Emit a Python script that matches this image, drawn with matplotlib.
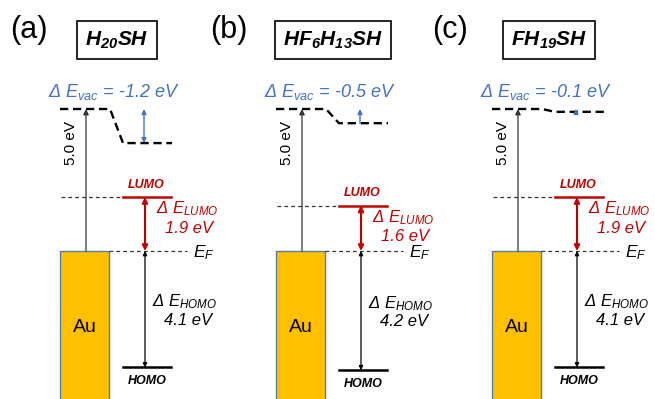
import matplotlib.pyplot as plt
from matplotlib.patches import Rectangle

plt.rcParams['font.family'] = ['Liberation Sans', 'DejaVu Sans']
plt.rcParams['mathtext.fontset'] = 'custom'
plt.rcParams['mathtext.rm'] = 'Liberation Sans'
plt.rcParams['mathtext.it'] = 'Liberation Sans:italic'
plt.rcParams['mathtext.bf'] = 'Liberation Sans:bold'
plt.rcParams['mathtext.bfit'] = 'Liberation Sans:italic:bold'

# Energie-Werte (eV, relativ zum Fermi-Niveau)
panels = ['(a)', '(b)', '(c)']
molecules = [r'$\mathbfit{H_{20}SH}$', r'$\mathbfit{HF_{6}H_{13}SH}$', r'$\mathbfit{FH_{19}SH}$']
work_function = [5.0, 5.0, 5.0]
delta_vac = [-1.2, -0.5, -0.1]
delta_lumo = [1.9, 1.6, 1.9]
delta_homo = [4.1, 4.2, 4.1]

BLUE = '#4472C4'
RED = '#C00000'
GOLD = '#FFC000'
DASH = '#333333'

# Skala: Pixel pro eV, Fermi-Niveau bei 251 px von oben
PX_EV = 28.4
EF_PX = 251
H_PX = 399

fig = plt.figure(figsize=(6.55, 3.99), dpi=100)
ax = fig.add_axes([0, 0, 1, 1])
ax.set_xlim(0, 655)
ax.set_ylim(-(H_PX - EF_PX) / PX_EV, EF_PX / PX_EV)
ax.axis('off')

offsets = [0, 216, 432]
label_x = [10, 210, 432]

for i in range(3):
    o = offsets[i]
    wf = work_function[i]
    vac2 = wf + delta_vac[i]
    lumo = delta_lumo[i]
    homo = -delta_homo[i]

    # Kopfzeile
    ax.text(label_x[i], 7.78, panels[i], fontsize=22, ha='left', va='center')
    ax.text(o + 117, 7.43, molecules[i], fontsize=15, ha='center', va='center',
            bbox=dict(boxstyle='square,pad=0.38', fc='white', ec='black', lw=1.2))

    # Vakuumniveau
    ax.plot([o + 60, o + 110, o + 123, o + 172], [wf, wf, vac2, vac2],
            color='black', ls=(0, (3.5, 2)), lw=1.7)
    style = '<|-|>' if abs(delta_vac[i]) > 1 else '-|>'
    ax.annotate('', xy=(o + 144, wf), xytext=(o + 144, vac2),
                arrowprops=dict(arrowstyle=style, color=BLUE, lw=1,
                                shrinkA=0, shrinkB=0, mutation_scale=7))
    ax.text(o + 114, wf + 0.6, 'Δ $E_{vac}$ = %.1f eV' % delta_vac[i], color=BLUE,
            fontsize=13, fontstyle='italic', ha='center', va='center')

    # Austrittsarbeit
    ax.annotate('', xy=(o + 86, wf), xytext=(o + 86, 0),
                arrowprops=dict(arrowstyle='-|>', color='#333333', lw=0.9,
                                shrinkA=0, shrinkB=0, mutation_scale=8))
    ax.text(o + 71, wf - 1.18, '%.1f eV' % wf, fontsize=11,
            rotation=90, ha='center', va='center')

    # Au-Block
    ax.add_patch(Rectangle((o + 60, -6), 49, 6, fc=GOLD, ec='#5B7BA8', lw=1))
    ax.text(o + 85, -2.68, 'Au', fontsize=14, ha='center', va='center')

    # Fermi-Niveau
    ax.plot([o + 109, o + 187], [0, 0], color=DASH, ls=(0, (3, 2.5)), lw=0.9)
    ax.text(o + 193, -0.22, '$E_F$', fontsize=12.5, ha='left', va='baseline')

    # LUMO
    ax.plot([o + 61, o + 123], [lumo, lumo], color=DASH, ls=(0, (3, 2.5)), lw=0.9)
    ax.plot([o + 123, o + 171], [lumo, lumo], color=RED, lw=1.8)
    ax.text(o + 146, lumo + 0.43, 'LUMO', color=RED, fontsize=9,
            fontweight='bold', fontstyle='italic', ha='center', va='center')
    ax.annotate('', xy=(o + 145, lumo), xytext=(o + 145, 0),
                arrowprops=dict(arrowstyle='<|-|>', color=RED, lw=1.5,
                                shrinkA=0, shrinkB=0, mutation_scale=8))
    ax.text(o + 187, lumo - 0.42, 'Δ $E_{LUMO}$', color=RED, fontsize=12,
            fontstyle='italic', ha='center', va='center')
    ax.text(o + 189, lumo - 1.1, '%.1f eV' % delta_lumo[i], color=RED, fontsize=12,
            fontstyle='italic', ha='center', va='center')

    # HOMO
    ax.plot([o + 123, o + 171], [homo, homo], color='black', lw=1.8)
    ax.text(o + 147, homo - 0.47, 'HOMO', color='black', fontsize=9,
            fontweight='bold', fontstyle='italic', ha='center', va='center')
    ax.annotate('', xy=(o + 145, homo), xytext=(o + 145, 0),
                arrowprops=dict(arrowstyle='<|-|>', color='black', lw=0.9,
                                shrinkA=0, shrinkB=0, mutation_scale=6))
    mid = homo / 2
    ax.text(o + 185, mid + 0.25, 'Δ $E_{HOMO}$', color='black', fontsize=12,
            fontstyle='italic', ha='center', va='center')
    ax.text(o + 188, mid - 0.4, '%.1f eV' % delta_homo[i], color='black', fontsize=12,
            fontstyle='italic', ha='center', va='center')

fig.savefig('out.png', dpi=100)
